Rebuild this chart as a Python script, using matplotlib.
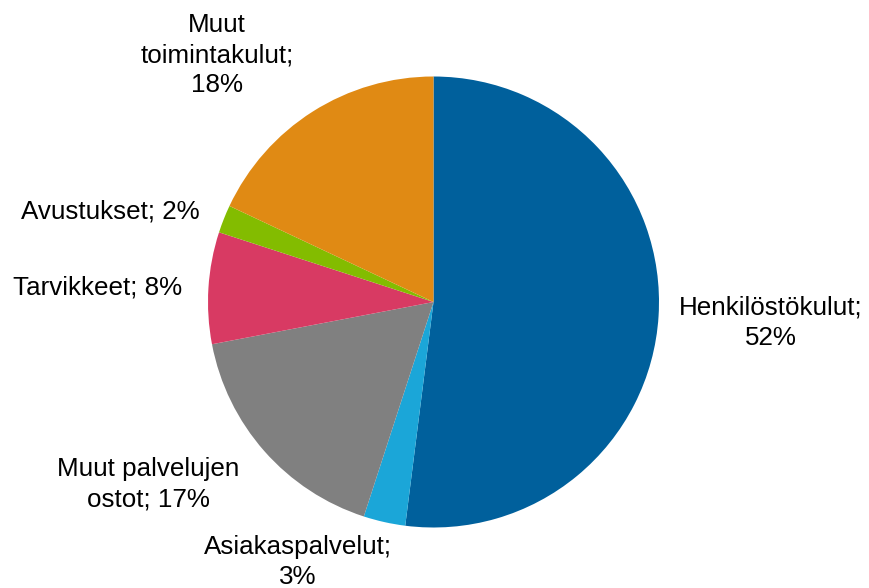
import matplotlib
matplotlib.use("Agg")
import matplotlib.pyplot as plt

categories = ["Henkilöstökulut", "Asiakaspalvelut", "Muut palvelujen ostot",
              "Tarvikkeet", "Avustukset", "Muut toimintakulut"]
values = [52, 3, 17, 8, 2, 18]
label_texts = ["Henkilöstökulut;\n52%", "Asiakaspalvelut;\n3%", "Muut palvelujen\nostot; 17%",
               "Tarvikkeet; 8%", "Avustukset; 2%", "Muut\ntoimintakulut;\n18%"]
colors = ["#00609C", "#1BA6D8", "#808080", "#D83A63", "#83BC00", "#E08A14"]

# layout (pixel coordinates, y measured from top)
label_pos = [(771, 323), (298, 562), (148, 484), (98, 288), (110, 212), (217, 55)]
W, H = 869, 588
cx, cy, r = 433.5, 302, 225.5

plt.rcParams['font.family'] = ['Liberation Sans', 'DejaVu Sans']
fig = plt.figure(figsize=(W / 100, H / 100), dpi=100)
ax = fig.add_axes([0, 0, 1, 1])

ax.pie(values, colors=colors, startangle=90, counterclock=False,
       center=(cx, H - cy), radius=r, frame=True,
       wedgeprops=dict(linewidth=0))
ax.set_xlim(0, W)
ax.set_ylim(0, H)
ax.set_aspect('equal')
ax.axis('off')

for txt, (x, y) in zip(label_texts, label_pos):
    ax.text(x, H - y, txt, ha='center', va='center', fontsize=18.7,
            linespacing=1.32, color='black')

fig.savefig("out.png", dpi=100)
